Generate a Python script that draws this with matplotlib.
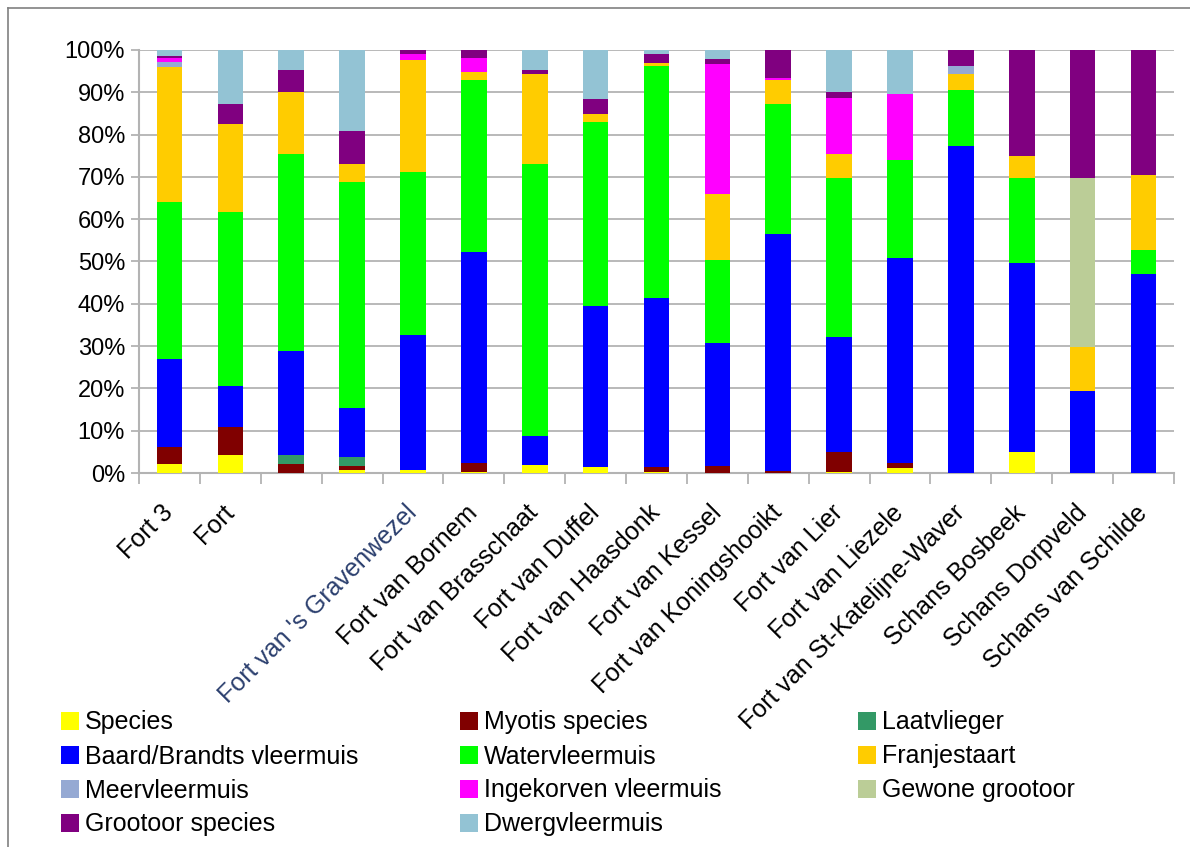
import matplotlib
matplotlib.use("Agg")
import matplotlib.pyplot as plt
import numpy as np
from matplotlib.lines import Line2D

plt.rcParams['font.family'] = ['Liberation Sans', 'DejaVu Sans']

# locaties (3e en 4e label niet zichtbaar in het origineel)
locaties = ["Fort 3", "Fort", "", "", "Fort van 's Gravenwezel", "Fort van Bornem",
            "Fort van Brasschaat", "Fort van Duffel", "Fort van Haasdonk", "Fort van Kessel",
            "Fort van Koningshooikt", "Fort van Lier", "Fort van Liezele",
            "Fort van St-Katelijne-Waver", "Schans Bosbeek", "Schans Dorpveld",
            "Schans van Schilde"]

# aandelen per soort (%), volgorde van onder naar boven
species    = [2.2, 4.3, 0, 0.6, 0.6, 0.3, 1.8, 1.5, 0.2, 0, 0, 0.2, 1.3, 0, 5.0, 0, 0]
myotis     = [4.0, 6.6, 2.2, 1.1, 0, 2.1, 0, 0, 1.3, 1.7, 0.55, 4.8, 1.1, 0, 0, 0, 0]
laatvl     = [0, 0, 2.1, 2.2, 0, 0, 0, 0, 0, 0, 0, 0, 0, 0, 0, 0, 0]
baard      = [20.8, 9.7, 24.6, 11.5, 32.1, 49.9, 7.0, 38.0, 39.9, 29.1, 56.0, 27.2, 48.5, 77.3, 44.7, 19.4, 47.1]
water      = [37.1, 41.1, 46.5, 53.4, 38.5, 40.6, 64.3, 43.5, 54.8, 19.6, 30.7, 37.6, 23.1, 13.3, 20.1, 0, 5.7]
franje     = [31.9, 20.8, 14.7, 4.3, 26.4, 1.9, 21.2, 1.9, 0.7, 15.6, 5.7, 5.6, 0, 3.7, 5.2, 10.4, 17.7]
meer       = [1.2, 0, 0, 0, 0, 0, 0, 0, 0, 0, 0, 0, 0, 1.9, 0, 0, 0]
ingekorven = [0.9, 0, 0, 0, 1.5, 3.3, 0, 0, 0, 30.7, 0.5, 13.3, 15.6, 0, 0, 0, 0]
gewone     = [0, 0, 0, 0, 0, 0, 0, 0, 0, 0, 0, 0, 0, 0, 0, 40.0, 0]
grootoor   = [0.55, 4.7, 5.2, 7.8, 0.9, 1.9, 1.0, 3.5, 2.2, 1.2, 6.6, 1.4, 0, 3.8, 25.0, 30.2, 29.5]
dwerg      = [1.3, 12.8, 4.7, 19.1, 0, 0, 4.7, 11.6, 0.9, 2.1, 0, 9.9, 10.4, 0, 0, 0, 0]

reeksen = [species, myotis, laatvl, baard, water, franje, meer, ingekorven, gewone, grootoor, dwerg]
namen = ["Species", "Myotis species", "Laatvlieger", "Baard/Brandts vleermuis", "Watervleermuis",
         "Franjestaart", "Meervleermuis", "Ingekorven vleermuis", "Gewone grootoor",
         "Grootoor species", "Dwergvleermuis"]
kleuren = ["#FFFF00", "#800000", "#339966", "#0000FF", "#00FF00", "#FFCC00", "#95A9D3",
           "#FF00FF", "#BBCD97", "#800080", "#93C3D4"]

data = np.array(reeksen, dtype=float)
data = data / data.sum(axis=0) * 100
x = np.arange(len(locaties))

fig = plt.figure(figsize=(11.9, 8.47), dpi=100)
ax = fig.add_axes([139/1190, 1 - 473/847, (1174 - 139)/1190, (473 - 50)/847])

onder = np.zeros(len(locaties))
handles = []
for i in range(len(reeksen)):
    b = ax.bar(x, data[i], 0.42, bottom=onder, color=kleuren[i], label=namen[i], zorder=3)
    handles.append(b)
    onder += data[i]

ax.set_xlim(-0.5, len(locaties) - 0.5)
ax.set_ylim(0, 100)
ax.set_yticks(np.arange(0, 101, 10))
ax.set_yticklabels([f"{v}%" for v in range(0, 101, 10)], fontsize=17)
ax.yaxis.grid(True, color="#B3B3B3", lw=1.3, zorder=0)
ax.set_axisbelow(True)
for s in ["top", "right"]:
    ax.spines[s].set_visible(False)
for s in ["left", "bottom"]:
    ax.spines[s].set_color("#B3B3B3")
    ax.spines[s].set_linewidth(1.5)
ax.tick_params(axis="y", length=6, color="#B3B3B3", width=1.3, pad=4)

ax.set_xticks(x)
ax.set_xticklabels(locaties, rotation=45, ha="right", va="center",
                   rotation_mode="anchor", fontsize=18)
ax.tick_params(axis="x", length=0, pad=26)
ax.set_xticks(np.arange(-0.5, len(locaties), 1), minor=True)
ax.tick_params(axis="x", which="minor", length=8, color="#B3B3B3", width=1.3)
ax.get_xticklabels()[4].set_color("#2B3F6E")

# legenda: drie kolommen, elk apart geplaatst
kolommen = [[0, 3, 6, 9], [1, 4, 7, 10], [2, 5, 8]]
kolom_x = [48, 447, 845]
for kol, kx in zip(kolommen, kolom_x):
    fig.legend([handles[i] for i in kol], [namen[i] for i in kol],
               loc="upper left", bbox_to_anchor=(kx/1190, 1 - 698/847),
               frameon=False, fontsize=18, handlelength=0.72, handleheight=0.72,
               handletextpad=0.25, labelspacing=0.4, borderpad=0)

# kader linksboven
fig.add_artist(Line2D([8/1190, 1], [1 - 8/847, 1 - 8/847], color="#808080", lw=1.2))
fig.add_artist(Line2D([8/1190, 8/1190], [0, 1 - 8/847], color="#808080", lw=1.2))

fig.savefig("out.png", dpi=100)
